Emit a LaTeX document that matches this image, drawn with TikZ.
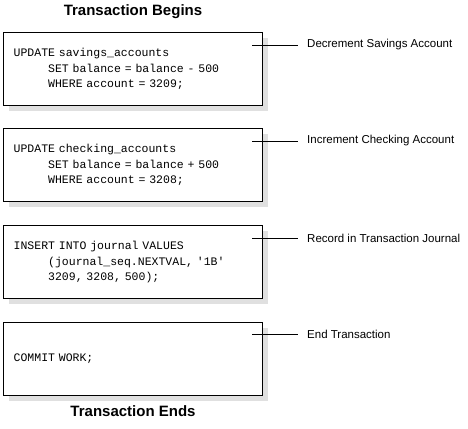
\documentclass[tikz,border=0pt]{standalone}
\usepackage{fontspec}
\setmainfont{Liberation Sans}
\setmonofont{Liberation Mono}
\usetikzlibrary{shadows}

\newcommand{\codeindent}{\hspace*{3em}}
\newcommand{\codefont}{\ttfamily\fontsize{11.5}{15.5}\selectfont\spaceskip=0.6em plus 0pt minus 0pt\relax}

\begin{document}
\begin{tikzpicture}[
    x=1pt, y=-1pt,
    codebox/.style={draw, line width=1.3pt, anchor=north west, fill=white,
        minimum width=259pt, minimum height=73pt, text width=239pt,
        inner xsep=10pt, inner ysep=0pt, align=left, font=\codefont,
        general shadow={fill=black!12, shadow xshift=5pt, shadow yshift=-5pt}},
    note/.style={anchor=west, inner sep=0pt, font=\fontsize{11.5}{13}\selectfont},
    heading/.style={font=\bfseries\fontsize{15}{17}\selectfont},
    lead/.style={line width=0.8pt, shorten >=9pt}]

    \useasboundingbox (0,0) rectangle (468,428);

    % begin and end
    \node[heading] (begins) at (133,12) {Transaction Begins};
    \node[heading] (ends) at (133,411) {Transaction Ends};

    % statements
    \node[codebox] (savings) at (3,32) {UPDATE savings\_accounts\\
        \codeindent SET balance = balance - 500\\
        \codeindent WHERE account = 3209;};
    \node[codebox] (checking) at (3,128) {UPDATE checking\_accounts\\
        \codeindent SET balance = balance + 500\\
        \codeindent WHERE account = 3208;};
    \node[codebox] (journal) at (3,225) {INSERT INTO journal VALUES\\
        \codeindent (journal\_seq.NEXTVAL, '1B'\\
        \codeindent 3209, 3208, 500);};
    \node[codebox] (commit) at (3,322) {COMMIT WORK;};

    % explanations
    \node[note] (dec) at (307,45) {Decrement Savings Account};
    \node[note] (inc) at (307,141) {Increment Checking Account};
    \node[note] (rec) at (307,238) {Record in Transaction Journal};
    \node[note] (fin) at (307,334) {End Transaction};

    \coordinate (savings-lead) at (252,45);
    \coordinate (checking-lead) at (252,141);
    \coordinate (journal-lead) at (252,238);
    \coordinate (commit-lead) at (252,334);
    \draw[lead] (savings-lead) -- (dec);
    \draw[lead] (checking-lead) -- (inc);
    \draw[lead] (journal-lead) -- (rec);
    \draw[lead] (commit-lead) -- (fin);
\end{tikzpicture}
\end{document}
